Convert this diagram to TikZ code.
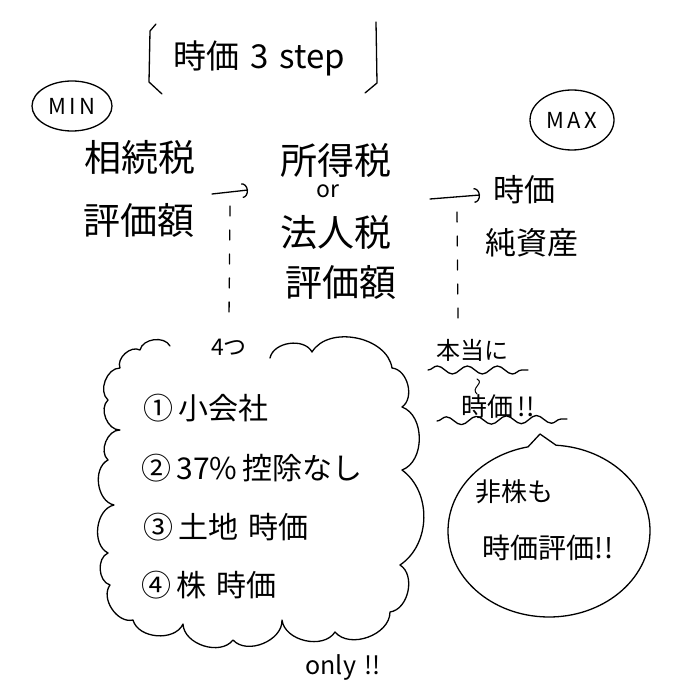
\documentclass[tikz,border=0pt]{standalone}
\usepackage{fontspec}
\setmainfont{Noto Sans CJK JP}
\usetikzlibrary{arrows.meta,shapes.geometric,decorations.pathmorphing,calc}
\begin{document}
\begin{tikzpicture}[x=1pt,y=-1pt,line width=1.3pt,line cap=round,line join=round,
  big/.style={font=\fontsize{37}{40}\selectfont,inner sep=0pt},
  mid/.style={font=\fontsize{31}{34}\selectfont,inner sep=0pt},
  item/.style={font=\fontsize{30}{32}\selectfont,inner sep=0pt,anchor=west},
  small/.style={font=\fontsize{23}{26}\selectfont,inner sep=0pt},
  tag/.style={draw,ellipse,font=\fontsize{22}{24}\selectfont,inner sep=0pt},
  arr/.style={-{Arc Barb[length=6pt,width=15pt]}},
  dsh/.style={dash pattern=on 10pt off 14pt},
  wave/.style={decorate,decoration={snake,amplitude=4pt,segment length=30pt}}]
\useasboundingbox (0,0) rectangle (673,700);
% title with brackets
\node[inner sep=0pt,font=\fontsize{33}{36}\selectfont] (title) at (259,58) {時価\,\,3\,\,step};
\draw (156,24) -- (150,31) -- (149,82) -- (162,94);
\draw (376,22) -- (377,83) -- (365,93);
% MIN / MAX
\node[tag,minimum width=80pt,minimum height=50pt] (min) at (72,106) {M\,I\,N};
\node[tag,minimum width=84pt,minimum height=60pt] (max) at (572,120) {M\,A\,X};
% columns
\node[big] (sz1) at (140,157) {相続税};
\node[big] (sz2) at (139,220) {評価額};
\node[big] (sh1) at (336,160) {所得税};
\node[small] (or) at (328,191) {or};
\node[big] (sh2) at (336,232) {法人税};
\node[big] (sh3) at (341,282) {評価額};
\node[mid] (jk1) at (524,190) {時価};
\node[mid] (jk2) at (532,243) {純資産};
% arrows
\coordinate (a1s) at (212,194);
\coordinate (a1e) at (248,190);
\draw[arr] (a1s) -- (a1e);
\coordinate (a2s) at (430,199);
\coordinate (a2e) at (480,195);
\draw[arr] (a2s) -- (a2e);
% dashed
\node[small] (four) at (229,347) {4つ};
\coordinate (d1s) at (230,206);
\coordinate (d1e) at (229,318);
\draw[dsh] (d1s) -- (d1e);
\coordinate (d2s) at (457,212);
\coordinate (d2e) at (458,318);
\draw[dsh] (d2s) -- (d2e);
% cloud
\draw (270,358) to[bend left=70] (312,352) to[bend left=70] (392,368)
  to[bend left=70] (402,407) to[bend left=70] (402,470) to[bend left=55] (400,565)
  to[bend left=70] (390,612) to[bend left=70] (335,632) to[bend left=70] (282,620)
  to[bend left=70] (233,640) to[bend left=70] (183,624) to[bend left=70] (133,620)
  to[bend left=70] (110,585) to[bend left=70] (108,553) to[bend left=70] (114,505)
  to[bend left=70] (108,460) to[bend left=70] (120,430) to[bend left=70] (108,400)
  to[bend left=70] (120,368) to[bend left=70] (140,350) to[bend left=70] (170,346);
\node[item] (i1) at (143,408) {①\,小会社};
\node[item] (i2) at (141,468) {②\,37\%\,控除なし};
\node[item] (i3) at (143,527) {③\,土地\,\,時価};
\node[item] (i4) at (141,585) {④\,株\,\,時価};
\node[small,font=\fontsize{25}{28}\selectfont] (only) at (343,667) {only\,\,!!};
% honto ni jika
\node[small,font=\fontsize{24}{26}\selectfont] (hn) at (472,350) {本当に};
\coordinate (w1s) at (428,370);
\coordinate (w1e) at (528,370);
\draw[wave] (w1s) -- (w1e);
\node[small,font=\fontsize{26}{28}\selectfont] (hj) at (498,407) {時価\,!!};
\coordinate (w2s) at (437,421);
\coordinate (w2e) at (567,419);
\draw[wave] (w2s) -- (w2e);
\coordinate (sq1) at (477,379);
\coordinate (sq2) at (477,394);
\draw[line width=1pt] (sq1) .. controls (485,383) and (470,388) .. (sq2);
% speech bubble
\coordinate (bc) at (549,531);
\coordinate (tip) at (540,434);
\draw (tip) -- ($(bc)+(274:101 and 86)$) arc[start angle=274,end angle=618,x radius=101,y radius=86] -- (tip);
\node[small,font=\fontsize{26}{28}\selectfont] (nk) at (514,492) {非株も};
\node[small,font=\fontsize{28}{30}\selectfont] (jh) at (548,548) {時価評価!!};
\end{tikzpicture}
\end{document}
